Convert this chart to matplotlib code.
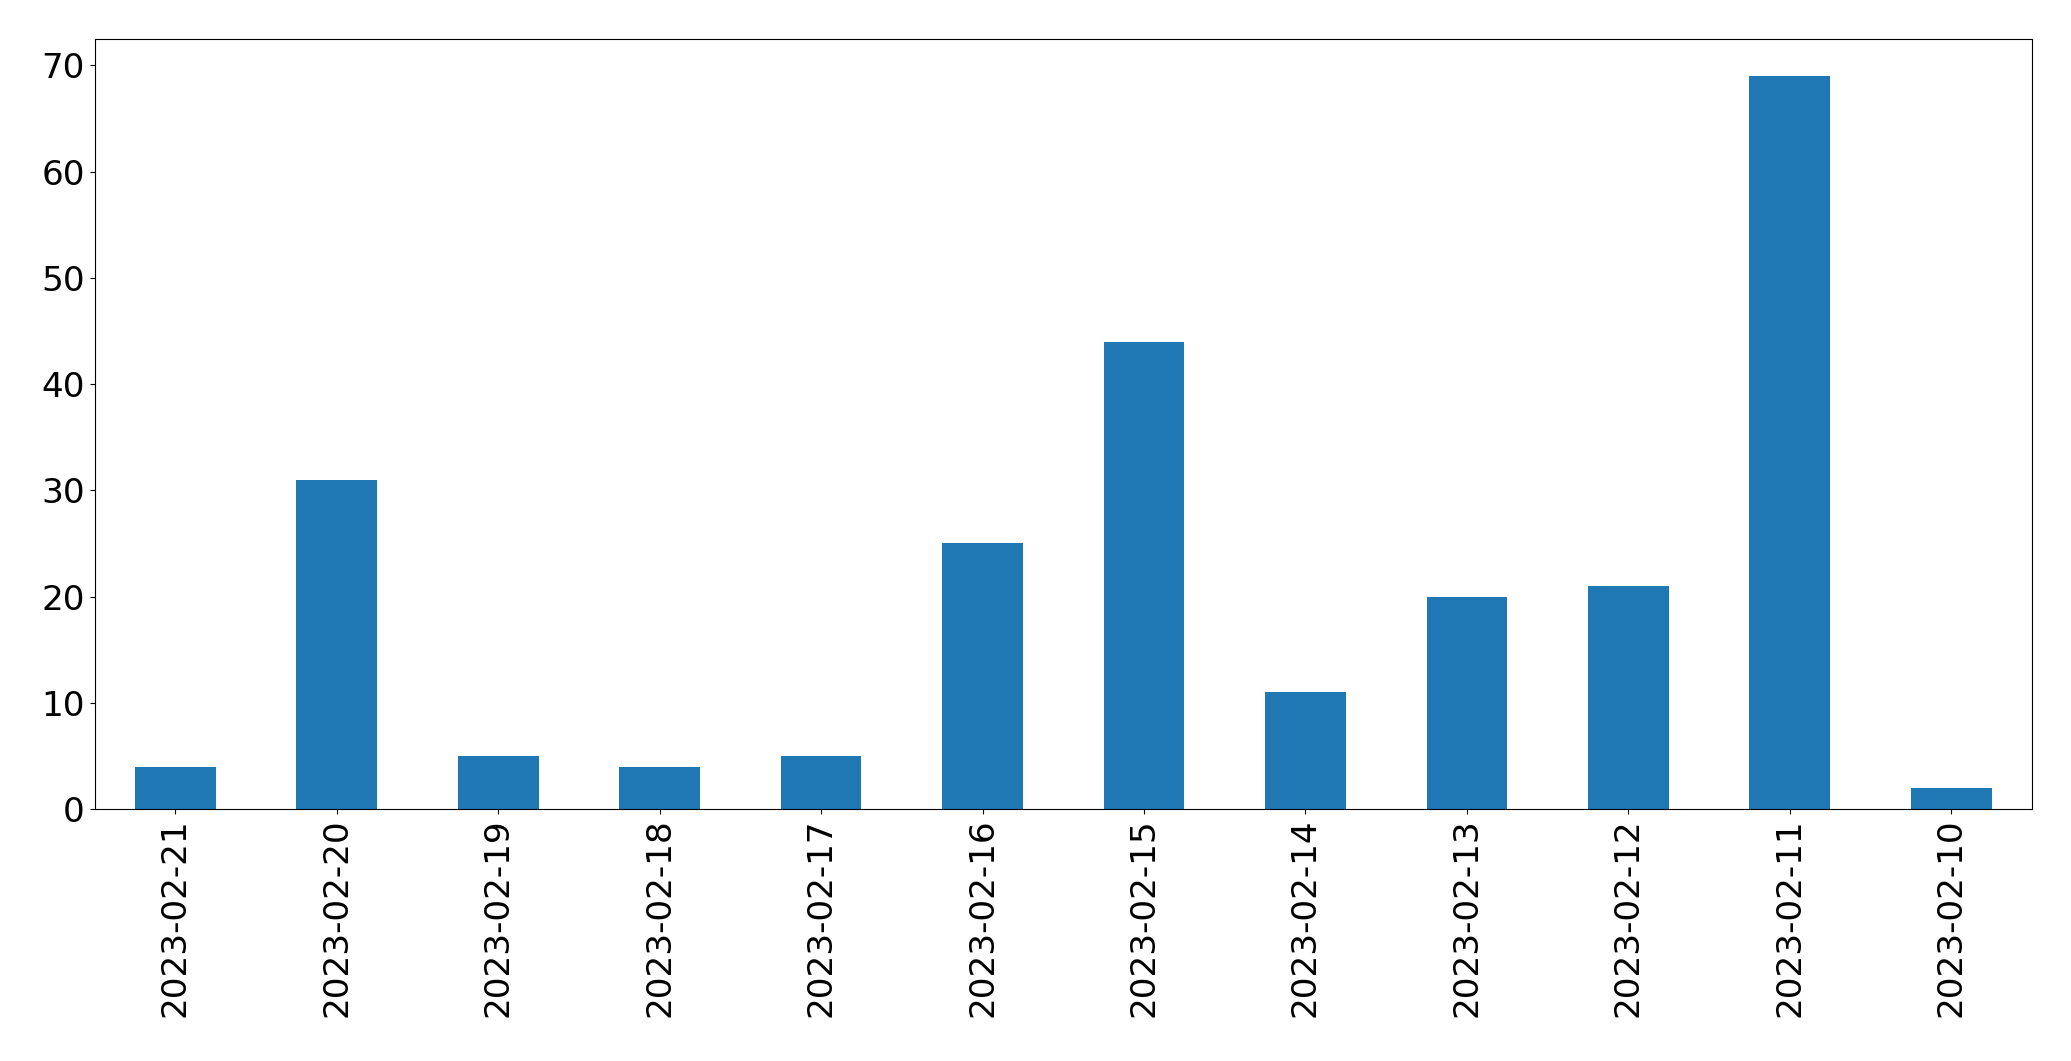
import matplotlib
matplotlib.use("Agg")
import matplotlib.pyplot as plt

# dates (as shown on the x axis) and counts per day
dates = ["2023-02-21", "2023-02-20", "2023-02-19", "2023-02-18", "2023-02-17", "2023-02-16",
         "2023-02-15", "2023-02-14", "2023-02-13", "2023-02-12", "2023-02-11", "2023-02-10"]
counts = [4, 31, 5, 4, 5, 25, 44, 11, 20, 21, 69, 2]

fig = plt.figure(figsize=(20.71, 10.61), dpi=100)
ax = fig.add_axes([94.5 / 2071, 1 - 809 / 1061, (2032 - 94.5) / 2071, (809 - 39.3) / 1061])

x = range(len(dates))
ax.bar(x, counts, width=0.5, color="#1f77b4")
ax.set_xlim(-0.5, len(dates) - 0.5)
ax.set_ylim(0, 72.45)
ax.set_xticks(list(x))
ax.set_xticklabels(dates, rotation=90)
ax.tick_params(axis="both", labelsize=24.7)

fig.savefig("out.png", dpi=100)
